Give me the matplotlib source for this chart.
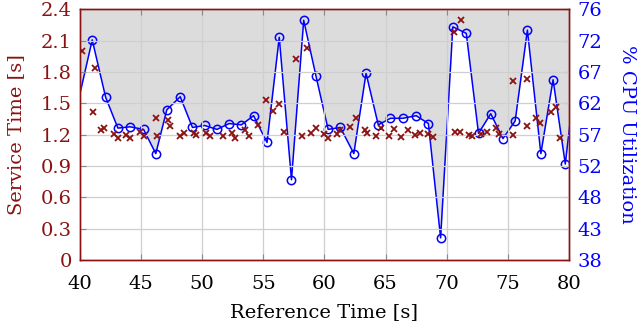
import numpy as np
import matplotlib
matplotlib.use("Agg")
import matplotlib.pyplot as plt

plt.rcParams['font.family'] = ['DejaVu Serif']
plt.rcParams['font.size'] = 14

# service time samples (reference time [s], service time [s])
svc_t = [40.2, 41.1, 41.2, 41.7, 42.0, 42.8, 43.1, 43.8, 44.1, 44.9, 45.2, 46.2, 46.3,
         47.2, 47.4, 48.2, 48.5, 49.3, 49.5, 50.3, 50.6, 51.7, 52.4, 52.7, 53.5, 53.8,
         54.6, 55.2, 55.8, 56.3, 56.7, 57.7, 58.2, 58.6, 58.9, 59.3, 60.0, 60.3, 61.0,
         61.3, 62.1, 62.6, 63.3, 63.5, 64.2, 64.6, 65.3, 65.7, 66.3, 66.8, 67.4, 67.8,
         68.5, 68.9, 70.6, 70.7, 71.1, 71.2, 71.8, 72.1, 72.8, 73.3, 74.0, 74.3, 75.4,
         75.4, 76.6, 76.6, 77.3, 77.6, 78.5, 78.9, 79.3]
svc_s = [2.00, 1.42, 1.84, 1.24, 1.26, 1.21, 1.17, 1.20, 1.17, 1.23, 1.19, 1.36, 1.19,
         1.34, 1.28, 1.19, 1.22, 1.22, 1.20, 1.22, 1.19, 1.19, 1.22, 1.17, 1.24, 1.19,
         1.29, 1.53, 1.43, 1.49, 1.23, 1.92, 1.19, 2.03, 1.22, 1.26, 1.21, 1.17, 1.21,
         1.24, 1.27, 1.36, 1.24, 1.22, 1.19, 1.26, 1.19, 1.25, 1.18, 1.24, 1.20, 1.22,
         1.21, 1.18, 2.18, 1.23, 1.23, 2.30, 1.20, 1.19, 1.21, 1.23, 1.26, 1.21, 1.20,
         1.71, 1.73, 1.28, 1.36, 1.31, 1.42, 1.46, 1.17]

# cpu utilization samples
cpu_t = [39.0, 41.0, 42.1, 43.1, 44.1, 45.2, 46.2, 47.1, 48.2, 49.2, 50.2, 51.2, 52.2,
         53.2, 54.2, 55.3, 56.3, 57.3, 58.3, 59.3, 60.3, 61.3, 62.4, 63.4, 64.4, 65.4,
         66.4, 67.5, 68.5, 69.5, 70.5, 71.6, 72.6, 73.6, 74.6, 75.6, 76.6, 77.7, 78.7,
         79.7, 80.7]
cpu_u = [55.3, 71.7, 62.9, 58.2, 58.4, 58.0, 54.3, 61.0, 63.0, 58.3, 58.6, 58.0, 58.9,
         58.7, 60.1, 56.0, 72.1, 50.3, 74.7, 66.2, 58.0, 58.3, 54.3, 66.6, 58.7, 59.7,
         59.7, 60.1, 58.9, 41.4, 73.7, 72.7, 57.4, 60.4, 56.6, 59.3, 73.2, 54.3, 65.6,
         52.7, 69.0]

left_ticks = [0, 0.3, 0.6, 0.9, 1.2, 1.5, 1.8, 2.1, 2.4]
left_labels = ['0', '0.3', '0.6', '0.9', '1.2', '1.5', '1.8', '2.1', '2.4']
right_labels = ['38', '43', '48', '52', '57', '62', '67', '72', '76']

red = '#8b1212'
blue = '#0000ff'

fig = plt.figure(figsize=(6.4, 3.28), dpi=100)
ax1 = fig.add_axes([0.125, 0.207, 0.764, 0.765])
ax2 = ax1.twinx()

# cpu: filled area above the line, drawn underneath
ax2.fill_between(cpu_t, cpu_u, 80, color='#dcdcdc', lw=0)
ax2.plot(cpu_t, cpu_u, color=blue, lw=1.1, marker='o', ms=6, mfc='none', mew=1.1)
ax2.set_ylim(38, 76.4)
ax2.set_yticks(np.linspace(38, 76.4, 9))
ax2.set_yticklabels(right_labels)
ax2.tick_params(axis='y', colors=blue, direction='in', length=4, pad=6)
ax2.yaxis.set_tick_params(color='#888888')
ax2.set_ylabel('% CPU Utilization', color=blue, rotation=-90, labelpad=24)

# service time on top, transparent background
ax1.set_zorder(ax2.get_zorder() + 1)
ax1.patch.set_visible(False)
ax1.plot(svc_t, svc_s, ls='none', marker='x', ms=4.5, mew=1.3, color=red)
ax1.set_xlim(40, 80)
ax1.set_ylim(0, 2.4)
ax1.set_yticks(left_ticks)
ax1.set_yticklabels(left_labels)
ax1.set_xticks(range(40, 81, 5))
ax1.grid(True, color='#cfcfcf', lw=0.9)
ax1.set_axisbelow(True)
ax1.tick_params(axis='y', colors=red, direction='in', length=4, pad=6)
ax1.yaxis.set_tick_params(color='#888888')
ax1.tick_params(axis='x', direction='in', length=4, color='#888888', top=True, pad=11)
ax1.set_ylabel('Service Time [s]', color=red, labelpad=11)
ax1.set_xlabel('Reference Time [s]', labelpad=7)

for ax in (ax1, ax2):
    for s in ax.spines.values():
        s.set_color(red)
        s.set_linewidth(1.0)

fig.savefig('out.png', dpi=100)
